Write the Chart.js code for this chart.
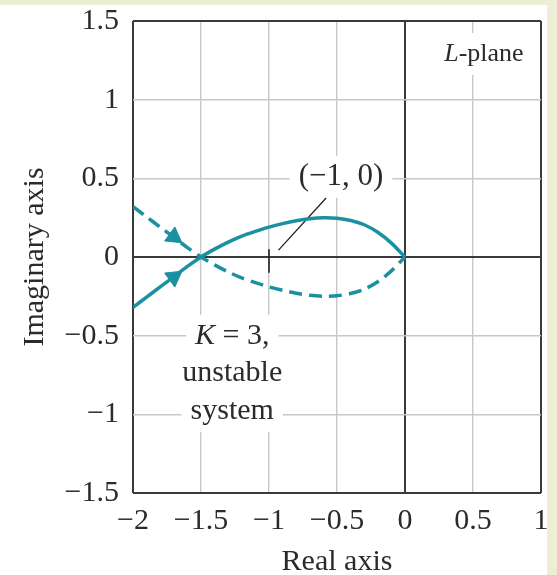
<!DOCTYPE html>
<html>
<head>
<meta charset="utf-8">
<script src="https://cdn.jsdelivr.net/npm/chart.js@4.4.1/dist/chart.umd.min.js"></script>
<style>
html, body { margin: 0; padding: 0; background: #eceed6; }
#wrap { position: relative; width: 557px; height: 575px; }
</style>
</head>
<body>
<div id="wrap"><canvas id="chartLPlane" width="557" height="575"></canvas></div>
<script>
// L-plane locus, K = 3
var reValues = [-2, -1.9, -1.8, -1.7, -1.6, -1.5, -1.4, -1.3, -1.2, -1.1, -1, -0.9, -0.8, -0.7, -0.6, -0.5, -0.4, -0.3, -0.2, -0.1, 0];
var imSolid = [-0.32, -0.255, -0.19, -0.125, -0.06, 0, 0.05, 0.095, 0.133, 0.163, 0.19, 0.212, 0.23, 0.243, 0.249, 0.246, 0.232, 0.205, 0.157, 0.088, 0];
var imDashed = [0.32, 0.255, 0.19, 0.125, 0.06, 0, -0.05, -0.095, -0.133, -0.163, -0.19, -0.212, -0.23, -0.243, -0.249, -0.246, -0.232, -0.205, -0.157, -0.088, 0];

// arrow heads on the two branches
var arrowRe = [-1.7, -1.7];
var arrowIm = [-0.128, 0.128];

// small mark at (-1, 0) and the leader line to its label
var markRe = [-1, -1];
var markIm = [0.05, -0.1];
var leaderRe = [-0.93, -0.58];
var leaderIm = [0.044, 0.375];

// tick labels
var xTicks = [-2, -1.5, -1, -0.5, 0, 0.5, 1];
var yTicks = [-1.5, -1, -0.5, 0, 0.5, 1, 1.5];

// text notes
var noteText = ["(\u22121, 0)", "L-plane", "K = 3,", "unstable", "system"];
var noteItalic = ["", "L", "K", "", ""];
var noteRe = [-0.47, 0.58, -1.27, -1.27, -1.27];
var noteIm = [0.51, 1.29, -0.5, -0.74, -0.98];

// note font sizes (px), same order as noteText
var noteFontPx = [31, 26, 30, 30, 30];

var TEAL = "#1b90a1";
var INK = "#2b2b2b";
var SERIF = "'Liberation Serif', 'DejaVu Serif', serif";

var toPts = function(xs, ys) {
    return xs.map(function(x, i) { return { x: x, y: ys[i] }; });
};

var fmt = function(v) {
    return v < 0 ? "\u2212" + Math.abs(v) : String(v);
};

var gridColor = function(ctx) {
    var s = ctx.scale, v = ctx.tick.value;
    return (v === 0 || v === s.min || v === s.max) ? "#3a3a3a" : "#c8c8c8";
};
var gridWidth = function(ctx) {
    var s = ctx.scale, v = ctx.tick.value;
    return (v === 0 || v === s.min || v === s.max) ? 2 : 1.4;
};

var paperPlugin = {
    id: "paper",
    beforeDraw: function(chart) {
        var c = chart.ctx;
        c.save();
        c.fillStyle = "#ffffff";
        c.fillRect(0, 5, 547, 570);
        c.restore();
    }
};

var notesPlugin = {
    id: "notes",
    beforeDatasetsDraw: function(chart) {
        var c = chart.ctx;
        var sx = chart.scales.x, sy = chart.scales.y;
        c.save();
        c.textBaseline = "middle";
        c.textAlign = "left";
        for (var i = 0; i < noteText.length; i++) {
            var px = sx.getPixelForValue(noteRe[i]);
            var py = sy.getPixelForValue(noteIm[i]);
            var fs = noteFontPx[i] + "px " + SERIF;
            var it = noteItalic[i];
            var rest = noteText[i].slice(it.length);
            c.font = "italic " + fs;
            var wi = it ? c.measureText(it).width : 0;
            c.font = fs;
            var w = wi + c.measureText(rest).width;
            c.fillStyle = "#ffffff";
            c.fillRect(px - w / 2 - 9, py - 21, w + 18, 42);
            c.fillStyle = INK;
            if (it) {
                c.font = "italic " + fs;
                c.fillText(it, px - w / 2, py);
            }
            c.font = fs;
            c.fillText(rest, px - w / 2 + wi, py);
        }
        c.restore();
    }
};

var chartLPlane = new Chart(document.getElementById("chartLPlane").getContext("2d"), {
    type: "scatter",
    data: {
        datasets: [{
            data: toPts(reValues, imSolid),
            showLine: true,
            borderColor: TEAL,
            borderWidth: 3.5,
            pointRadius: 0,
            tension: 0.3
        }, {
            data: toPts(reValues, imDashed),
            showLine: true,
            borderColor: TEAL,
            borderWidth: 3.5,
            borderDash: [13, 7],
            pointRadius: 0,
            tension: 0.3
        }, {
            data: toPts(arrowRe, arrowIm),
            showLine: false,
            pointStyle: "triangle",
            rotation: [54, 126],
            pointRadius: 10,
            backgroundColor: TEAL,
            borderColor: TEAL,
            borderWidth: 1
        }, {
            data: toPts(markRe, markIm),
            showLine: true,
            borderColor: "#222222",
            borderWidth: 1.6,
            pointRadius: 0
        }, {
            data: toPts(leaderRe, leaderIm),
            showLine: true,
            borderColor: "#222222",
            borderWidth: 1.3,
            pointRadius: 0
        }]
    },
    options: {
        responsive: false,
        animation: false,
        devicePixelRatio: 1,
        layout: { padding: { top: 21, right: 16, bottom: 0, left: 0 } },
        plugins: {
            legend: { display: false },
            tooltip: { enabled: false }
        },
        scales: {
            x: {
                type: "linear",
                min: -2,
                max: 1,
                afterBuildTicks: function(s) { s.ticks = xTicks.map(function(v) { return { value: v }; }); },
                afterFit: function(s) { s.height = 82; s.paddingLeft = 0; s.paddingRight = 0; },
                border: { display: false },
                grid: { color: gridColor, lineWidth: gridWidth, drawTicks: false },
                ticks: {
                    padding: 10,
                    color: INK,
                    font: { family: SERIF, size: 30 },
                    callback: function(v) { return fmt(v); }
                },
                title: {
                    display: true,
                    text: "Real axis",
                    color: INK,
                    font: { family: SERIF, size: 30, lineHeight: 0.85 },
                    padding: { top: 0, bottom: 0 }
                }
            },
            y: {
                type: "linear",
                min: -1.5,
                max: 1.5,
                afterBuildTicks: function(s) { s.ticks = yTicks.map(function(v) { return { value: v }; }); },
                afterFit: function(s) { s.width = 133; s.paddingTop = 0; s.paddingBottom = 0; },
                border: { display: false },
                grid: { color: gridColor, lineWidth: gridWidth, drawTicks: false },
                ticks: {
                    padding: 14,
                    color: INK,
                    font: { family: SERIF, size: 30 },
                    callback: function(v) { return fmt(v); }
                },
                title: {
                    display: true,
                    text: "Imaginary axis",
                    color: INK,
                    font: { family: SERIF, size: 30, lineHeight: 1.2 },
                    padding: { top: 17, bottom: 0 }
                }
            }
        }
    },
    plugins: [paperPlugin, notesPlugin]
});
</script>
</body>
</html>
